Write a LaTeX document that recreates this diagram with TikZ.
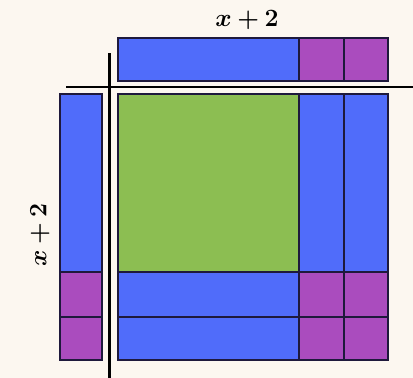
\documentclass[tikz,border=0pt]{standalone}
\usepackage{bm}
\definecolor{bg}{RGB}{252,247,240}
\definecolor{tblue}{RGB}{80,108,250}
\definecolor{tgreen}{RGB}{140,190,82}
\definecolor{tpurple}{RGB}{170,76,190}
\definecolor{edge}{RGB}{30,25,60}
\tikzset{
  tile/.style={draw=edge, line width=1.8pt},
  axis/.style={draw=black, line width=2.2pt},
  lbl/.style={font=\fontsize{24}{28}\selectfont, inner sep=0pt}
}
\begin{document}
\begin{tikzpicture}[x=1pt,y=-1pt]
\fill[bg] (0,0) rectangle (413,378);
\useasboundingbox (0,0) rectangle (413,378);
% top strip
\path[tile, fill=tblue] (118,38) rectangle (299,81);
\path[tile, fill=tpurple] (299,38) rectangle (344,81);
\path[tile, fill=tpurple] (344,38) rectangle (388,81);
% left strip
\path[tile, fill=tblue] (60,94) rectangle (102,272);
\path[tile, fill=tpurple] (60,272) rectangle (102,317);
\path[tile, fill=tpurple] (60,317) rectangle (102,360);
% main grid
\path[tile, fill=tgreen] (118,94) rectangle (299,272);
\path[tile, fill=tblue] (299,94) rectangle (344,272);
\path[tile, fill=tblue] (344,94) rectangle (388,272);
\path[tile, fill=tblue] (118,272) rectangle (299,317);
\path[tile, fill=tblue] (118,317) rectangle (299,360);
\path[tile, fill=tpurple] (299,272) rectangle (344,317);
\path[tile, fill=tpurple] (344,272) rectangle (388,317);
\path[tile, fill=tpurple] (299,317) rectangle (344,360);
\path[tile, fill=tpurple] (344,317) rectangle (388,360);
% axes
\coordinate (hl) at (66,87);
\coordinate (hr) at (413,87);
\coordinate (vt) at (109.5,53);
\coordinate (vb) at (109.5,378);
\draw[axis] (hl) -- (hr);
\draw[axis] (vt) -- (vb);
% labels
\node[lbl] (top) at (247,20) {$\bm{x+2}$};
\node[lbl, rotate=90] (left) at (40,235) {$\bm{x+2}$};
\end{tikzpicture}
\end{document}
